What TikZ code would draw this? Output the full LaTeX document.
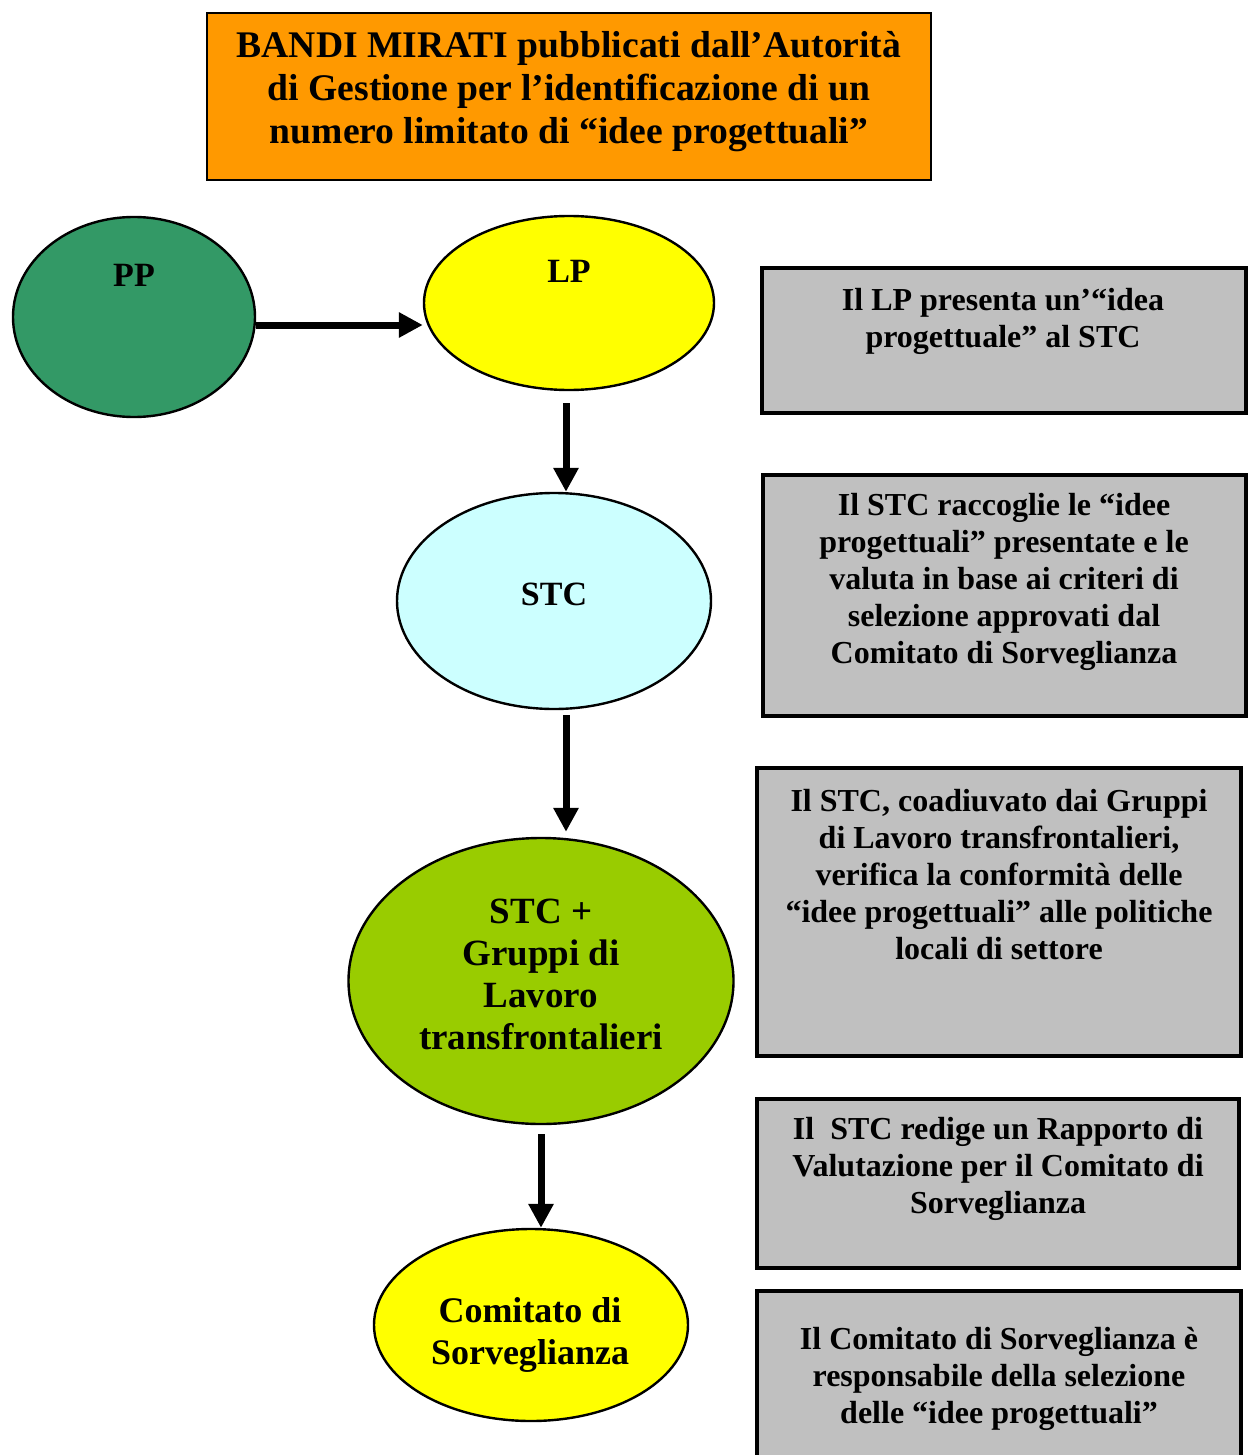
\documentclass[tikz,border=0pt]{standalone}
\usepackage{fontspec}
\setmainfont{Liberation Serif}
\usepackage{tikz}
\usepackage{xcolor}
\definecolor{bandorange}{HTML}{FF9900}
\definecolor{ppgreen}{HTML}{339966}
\definecolor{lpyellow}{HTML}{FFFF00}
\definecolor{stccyan}{HTML}{CCFFFF}
\definecolor{gruppigreen}{HTML}{99CC00}
\definecolor{notegray}{HTML}{C0C0C0}
\usetikzlibrary{arrows.meta,shapes.geometric,positioning}
\tikzset{
	bubble/.style={ellipse,draw,line width=1.2pt,inner sep=0pt},
	note/.style={rectangle,draw,line width=1.6pt,fill=notegray,inner sep=0pt},
	notetext/.style={align=center,inner sep=0pt,font=\bfseries\fontsize{16}{18.5}\selectfont},
	bubbletext/.style={align=center,inner sep=0pt,font=\bfseries\fontsize{18.5}{21}\selectfont},
	tagtext/.style={inner sep=0pt,font=\bfseries\fontsize{17}{20}\selectfont},
	flow/.style={-{Triangle[length=12pt,width=12pt]},line width=3.5pt},
}

\begin{document}
\begin{tikzpicture}[x=0.5pt,y=-0.5pt]
	\useasboundingbox (0,0) rectangle (1252,1455);
	\clip (0,0) rectangle (1252,1455);
	
	% bando
	\node[rectangle,draw,line width=1pt,fill=bandorange,minimum width=362pt,minimum height=83.5pt] (bando) at (569,96.5) {};
	\node[align=center,inner sep=0pt,font=\bfseries\fontsize{18.8}{21.5}\selectfont] (bandotext) at (569,92) {BANDI MIRATI pubblicati dall’Autorità\\di Gestione per l’identificazione di un\\numero limitato di “idee progettuali”};
	
	% ellissi
	\node[bubble,fill=ppgreen,minimum width=121pt,minimum height=100pt] (pp) at (134,317) {};
	\node[bubble,fill=lpyellow,minimum width=145pt,minimum height=87pt] (lp) at (569,303) {};
	\node[bubble,fill=stccyan,minimum width=157pt,minimum height=108pt] (stc) at (554,601) {};
	\node[bubble,fill=gruppigreen,minimum width=192.5pt,minimum height=143pt] (gruppi) at (541,981) {};
	\node[bubble,fill=lpyellow,minimum width=157pt,minimum height=96pt] (cds) at (531,1325) {};
	
	\node[tagtext] (pptag) at (134,275) {PP};
	\node[tagtext] (lptag) at (569,271) {LP};
	\node[tagtext] (stctag) at (554,594) {STC};
	\node[bubbletext] (gruppitext) at (541,974) {STC +\\Gruppi di\\Lavoro\\transfrontalieri};
	\node[bubbletext,font=\bfseries\fontsize{18}{21}\selectfont] (cdstext) at (530,1335) {Comitato di\\Sorveglianza};
	
	% note
	\node[note,minimum width=242pt,minimum height=72.5pt] (note1) at (1004,340.5) {};
	\node[note,minimum width=241.5pt,minimum height=120.5pt] (note2) at (1004.5,595.5) {};
	\node[note,minimum width=242pt,minimum height=144pt] (note3) at (999,912) {};
	\node[note,minimum width=241pt,minimum height=84.5pt] (note4) at (998,1183.5) {};
	\node[note,minimum width=242pt,minimum height=90pt] (note5) at (999,1381) {};
	
	\node[notetext] (note1text) at (1003,321) {Il LP presenta un’“idea\\progettuale” al STC};
	\node[notetext] (note2text) at (1004,582) {Il STC raccoglie le “idee\\progettuali” presentate e le\\valuta in base ai criteri di\\selezione approvati dal\\Comitato di Sorveglianza};
	\node[notetext] (note3text) at (999,875) {Il STC, coadiuvato dai Gruppi\\di Lavoro transfrontalieri,\\verifica la conformità delle\\“idee progettuali” alle politiche\\locali di settore};
	\node[notetext] (note4text) at (998,1169) {Il\ \ STC redige un Rapporto di\\Valutazione per il Comitato di\\Sorveglianza};
	\node[notetext] (note5text) at (999,1379) {Il Comitato di Sorveglianza è\\responsabile della selezione\\delle “idee progettuali”};
	
	% frecce
	\coordinate (ppout) at ([yshift=-4pt]pp.east);
	\coordinate (lpin) at ([yshift=-11pt]lp.west);
	\coordinate (lpout) at ([xshift=-1.5pt]lp.south);
	\coordinate (stcout) at ([xshift=6pt]stc.south);
	
	\draw[flow] (ppout) -- (lpin);
	\draw[flow,shorten <=6pt] (lpout) -- (lpout |- stc.north);
	\draw[flow,shorten <=2.5pt,shorten >=2.5pt] (stcout) -- (stcout |- gruppi.north);
	\draw[flow,shorten <=4.5pt] (gruppi.south) -- (gruppi.south |- cds.north);
\end{tikzpicture}
\end{document}
